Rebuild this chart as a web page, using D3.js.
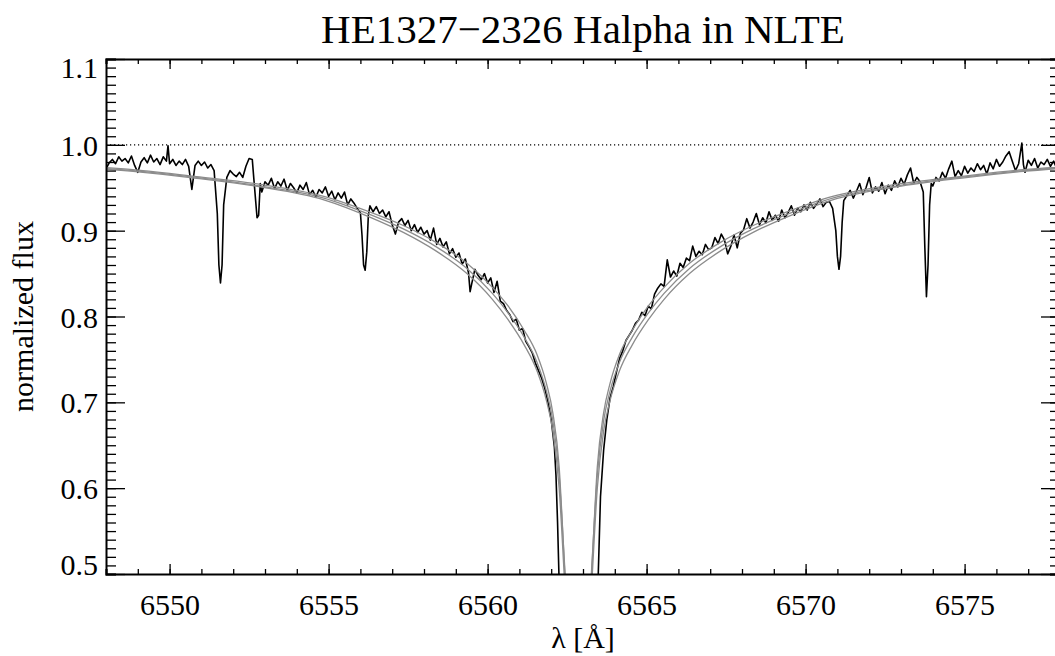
<!DOCTYPE html>
<html>
<head>
<meta charset="utf-8">
<script src="https://cdn.jsdelivr.net/npm/d3@7"></script>
<style>
  body { margin: 0; background: #fff; }
  svg { display: block; }
  svg text { font-family: "Liberation Serif", "DejaVu Serif", serif !important; }
</style>
</head>
<body>
<svg id="chart" width="1055" height="656"></svg>
<script>
// chart text
const title = "HE1327\u22122326 Halpha in NLTE";
const xTitle = "\u03bb [\u00c5]";
const yTitle = "normalized flux";

// axis ticks
const xMajorTicks = [6550, 6555, 6560, 6565, 6570, 6575];
const yMajorTicks = [0.5, 0.6, 0.7, 0.8, 0.9, 1.0, 1.1];
const continuum = 1.0;

// model profiles (gray), wavelengths in Angstrom
const modelWave = [6546.85, 6548.85, 6550.85, 6552.85, 6554.85, 6556.35, 6557.35, 6558.35, 6559.35,
  6560.15, 6560.65, 6561.15, 6561.55, 6561.85, 6562.05, 6562.25, 6562.43, 6562.55,
  6563.15, 6563.27, 6563.45, 6563.65, 6563.85, 6564.15, 6564.55, 6565.05, 6565.55,
  6566.35, 6567.35, 6568.35, 6569.35, 6570.85, 6572.85, 6574.85, 6576.85, 6578.85];
const modelA = [.976, .971, .963, .954, .940, .921, .906, .887, .862, .834, .812, .784, .756, .722, .688, .625, .500, .420,
  .420, .500, .625, .688, .722, .756, .784, .812, .834, .862, .887, .906, .921, .940, .954, .963, .971, .976];
const modelB = [.975, .970, .962, .952, .938, .918, .902, .882, .856, .827, .804, .776, .747, .713, .679, .615, .505, .430,
  .430, .505, .615, .679, .713, .747, .776, .804, .827, .856, .882, .902, .918, .938, .952, .962, .970, .975];
const modelC = [.975, .969, .961, .951, .936, .915, .898, .877, .850, .820, .796, .767, .737, .702, .667, .600, .485, .410,
  .410, .485, .600, .667, .702, .737, .767, .796, .820, .850, .877, .898, .915, .936, .951, .961, .969, .975];

// observed spectrum [wavelength, flux]
const observed = [
  [6548.0, .972], [6548.1, .979], [6548.2, .983], [6548.3, .978], [6548.4, .986], [6548.5, .981], [6548.6, .984],
  [6548.7, .979], [6548.8, .987], [6548.9, .976], [6549.0, .968], [6549.1, .980], [6549.2, .985], [6549.3, .979],
  [6549.4, .988], [6549.5, .980], [6549.6, .984], [6549.7, .977], [6549.8, .986], [6549.9, .981], [6549.95, .999],
  [6550.0, .978], [6550.1, .983], [6550.2, .976], [6550.3, .981], [6550.4, .977], [6550.5, .983], [6550.6, .975],
  [6550.7, .948], [6550.8, .976], [6550.9, .981], [6551.0, .976], [6551.1, .980], [6551.2, .973], [6551.3, .977],
  [6551.4, .970], [6551.5, .920], [6551.55, .860], [6551.6, .839], [6551.65, .860], [6551.7, .930], [6551.8, .962],
  [6551.9, .970], [6552.0, .966], [6552.1, .963], [6552.2, .968], [6552.3, .962], [6552.4, .975], [6552.5, .984],
  [6552.6, .983], [6552.65, .960], [6552.75, .915], [6552.8, .918], [6552.85, .955], [6552.9, .945], [6553.0, .957],
  [6553.1, .953], [6553.2, .961], [6553.3, .949], [6553.4, .957], [6553.5, .952], [6553.6, .960], [6553.7, .947],
  [6553.8, .955], [6553.9, .950], [6554.0, .944], [6554.1, .953], [6554.2, .948], [6554.3, .956], [6554.4, .942],
  [6554.5, .947], [6554.6, .939], [6554.7, .948], [6554.8, .944], [6554.9, .951], [6555.0, .940], [6555.1, .946],
  [6555.2, .936], [6555.3, .944], [6555.4, .938], [6555.5, .945], [6555.6, .930], [6555.7, .937], [6555.8, .932],
  [6555.9, .926], [6556.0, .921], [6556.05, .895], [6556.1, .860], [6556.15, .854], [6556.2, .875], [6556.25, .918],
  [6556.3, .929], [6556.4, .922], [6556.5, .928], [6556.6, .920], [6556.7, .924], [6556.8, .916], [6556.9, .922],
  [6557.0, .907], [6557.1, .896], [6557.2, .910], [6557.3, .914], [6557.4, .906], [6557.5, .912], [6557.6, .900],
  [6557.7, .907], [6557.8, .898], [6557.9, .904], [6558.0, .896], [6558.1, .900], [6558.2, .889], [6558.3, .903],
  [6558.4, .884], [6558.5, .891], [6558.6, .881], [6558.7, .887], [6558.8, .873], [6558.9, .879], [6559.0, .869],
  [6559.1, .874], [6559.2, .861], [6559.3, .867], [6559.4, .851], [6559.45, .829], [6559.5, .838], [6559.6, .855],
  [6559.7, .848], [6559.8, .843], [6559.9, .850], [6560.0, .839], [6560.1, .845], [6560.2, .828], [6560.3, .841],
  [6560.4, .818], [6560.5, .815], [6560.6, .807], [6560.7, .802], [6560.8, .794], [6560.9, .797], [6561.0, .784],
  [6561.1, .786], [6561.2, .771], [6561.3, .765], [6561.4, .758], [6561.5, .746], [6561.6, .737], [6561.7, .728],
  [6561.8, .716], [6561.9, .700], [6562.0, .680], [6562.1, .648], [6562.15, .615], [6562.2, .560], [6562.25, .490],
  [6562.3, .430], [6562.4, .360], [6562.85, .300], [6563.3, .360], [6563.4, .440], [6563.48, .500], [6563.55, .590],
  [6563.65, .645], [6563.75, .680], [6563.85, .705], [6563.95, .718], [6564.05, .735], [6564.15, .751], [6564.25, .760],
  [6564.35, .772], [6564.45, .778], [6564.55, .784], [6564.65, .792], [6564.75, .796], [6564.85, .805], [6564.95, .801],
  [6565.05, .812], [6565.15, .809], [6565.25, .826], [6565.35, .833], [6565.45, .838], [6565.55, .835], [6565.65, .866],
  [6565.75, .846], [6565.85, .853], [6565.95, .847], [6566.05, .862], [6566.15, .857], [6566.25, .868], [6566.35, .865],
  [6566.45, .882], [6566.55, .870], [6566.65, .876], [6566.75, .872], [6566.85, .884], [6566.95, .878], [6567.05, .880],
  [6567.15, .892], [6567.25, .885], [6567.35, .896], [6567.45, .889], [6567.55, .873], [6567.65, .882], [6567.75, .895],
  [6567.85, .880], [6567.95, .897], [6568.05, .901], [6568.15, .914], [6568.25, .903], [6568.35, .910], [6568.45, .920],
  [6568.55, .907], [6568.65, .915], [6568.75, .909], [6568.85, .922], [6568.95, .912], [6569.05, .918], [6569.15, .911],
  [6569.25, .924], [6569.35, .915], [6569.45, .921], [6569.55, .929], [6569.65, .918], [6569.75, .926], [6569.85, .922],
  [6569.95, .930], [6570.05, .924], [6570.15, .933], [6570.25, .926], [6570.35, .931], [6570.45, .937], [6570.55, .928],
  [6570.65, .933], [6570.75, .934], [6570.85, .926], [6570.95, .900], [6571.0, .870], [6571.05, .855], [6571.1, .870],
  [6571.15, .910], [6571.2, .935], [6571.3, .941], [6571.4, .947], [6571.5, .938], [6571.6, .946], [6571.7, .955],
  [6571.8, .942], [6571.9, .950], [6572.0, .962], [6572.1, .944], [6572.2, .951], [6572.3, .946], [6572.4, .956],
  [6572.5, .943], [6572.6, .953], [6572.7, .947], [6572.8, .958], [6572.9, .951], [6573.0, .961], [6573.1, .954],
  [6573.2, .965], [6573.3, .973], [6573.4, .955], [6573.5, .962], [6573.6, .957], [6573.7, .945], [6573.75, .880],
  [6573.8, .823], [6573.85, .860], [6573.9, .930], [6573.95, .955], [6574.0, .952], [6574.1, .962], [6574.2, .958],
  [6574.3, .968], [6574.4, .961], [6574.5, .972], [6574.6, .981], [6574.7, .963], [6574.8, .970], [6574.9, .964],
  [6575.0, .975], [6575.1, .967], [6575.2, .973], [6575.3, .969], [6575.4, .978], [6575.5, .971], [6575.6, .976],
  [6575.7, .966], [6575.8, .979], [6575.9, .972], [6576.0, .983], [6576.1, .975], [6576.2, .980], [6576.3, .987],
  [6576.4, .992], [6576.5, .981], [6576.6, .970], [6576.7, .978], [6576.8, 1.002], [6576.85, .977], [6576.9, .968],
  [6577.0, .982], [6577.1, .976], [6577.2, .984], [6577.3, .973], [6577.4, .980], [6577.5, .977], [6577.6, .983],
  [6577.7, .975], [6577.8, .981], [6577.9, .972], [6578.0, .979], [6578.1, .976]
];

const margin = { left: 106, top: 59, right: -5, bottom: 82 };
const width = 1055;
const height = 656;

const svg = d3.select("#chart");
const plotW = width - margin.left - margin.right;
const plotH = height - margin.top - margin.bottom;

const x = d3.scaleLinear().domain([6548, 6578]).range([0, plotW]);
const y = d3.scaleLinear().domain([0.5, 1.1]).range([plotH, 0]);

const g = svg.append("g").attr("transform", `translate(${margin.left},${margin.top})`);

svg.append("defs").append("clipPath").attr("id", "plotclip")
  .append("rect").attr("width", plotW).attr("height", plotH);

// title
svg.append("text")
  .attr("x", margin.left + plotW / 2)
  .attr("y", 43)
  .attr("text-anchor", "middle")
  .attr("font-size", 41)
  .text(title);

const plot = g.append("g").attr("clip-path", "url(#plotclip)");

// continuum level
plot.append("line")
  .attr("x1", 0).attr("x2", plotW)
  .attr("y1", y(continuum)).attr("y2", y(continuum))
  .attr("stroke", "#000")
  .attr("stroke-width", 1.2)
  .attr("stroke-dasharray", "1.2,2.8");

const obsLine = d3.line().x((d) => x(d[0])).y((d) => y(d[1]));
plot.append("path")
  .datum(observed)
  .attr("fill", "none")
  .attr("stroke", "#000")
  .attr("stroke-width", 1.6)
  .attr("stroke-linejoin", "round")
  .attr("d", obsLine);

const modelLine = d3.line()
  .x((d, i) => x(modelWave[i]))
  .y((d) => y(d))
  .curve(d3.curveMonotoneX);
[modelA, modelB, modelC].forEach((m) => {
  plot.append("path")
    .datum(m)
    .attr("fill", "none")
    .attr("stroke", "#8c8c8c")
    .attr("stroke-width", 1.3)
    .attr("d", modelLine);
});

// axes: ticks point inward on all four sides
const xMinor = d3.range(6548, 6579, 1);
const yMinor = d3.range(50, 111, 1).map((v) => v / 100);

function styleAxis(sel) {
  sel.attr("font-family", null).attr("font-size", 30);
  sel.selectAll(".tick line").attr("stroke", "#000").attr("stroke-width", 1.3);
  sel.select(".domain").attr("stroke", "#000").attr("stroke-width", 2);
  sel.selectAll("text").attr("fill", "#000");
}

const xBottom = g.append("g").attr("transform", `translate(0,${plotH})`)
  .call(d3.axisBottom(x).tickValues(xMinor).tickSize(-5).tickFormat(""));
styleAxis(xBottom);
const xBottomMajor = g.append("g").attr("transform", `translate(0,${plotH})`)
  .call(d3.axisBottom(x).tickValues(xMajorTicks).tickSize(-10).tickPadding(20).tickFormat(d3.format("d")));
styleAxis(xBottomMajor);
xBottomMajor.select(".domain").remove();

const xTop = g.append("g")
  .call(d3.axisTop(x).tickValues(xMinor).tickSize(-5).tickFormat(""));
styleAxis(xTop);
const xTopMajor = g.append("g")
  .call(d3.axisTop(x).tickValues(xMajorTicks).tickSize(-10).tickFormat(""));
styleAxis(xTopMajor);
xTopMajor.select(".domain").remove();

const yLeft = g.append("g")
  .call(d3.axisLeft(y).tickValues(yMinor).tickSize(-10).tickFormat(""));
styleAxis(yLeft);
const yLeftMajor = g.append("g")
  .call(d3.axisLeft(y).tickValues(yMajorTicks).tickSize(-19).tickPadding(8).tickFormat(d3.format(".1f")));
styleAxis(yLeftMajor);
yLeftMajor.select(".domain").remove();
yLeftMajor.selectAll("text").attr("dy", "0.35em");
// end labels are kept inside the axis span
yLeftMajor.selectAll(".tick").filter((d) => d === 1.1).select("text").attr("dy", "0.6em");
yLeftMajor.selectAll(".tick").filter((d) => d === 0.5).select("text").attr("dy", "0em");

const yRight = g.append("g").attr("transform", `translate(${plotW},0)`)
  .call(d3.axisRight(y).tickValues(yMinor).tickSize(-10).tickFormat(""));
styleAxis(yRight);
const yRightMajor = g.append("g").attr("transform", `translate(${plotW},0)`)
  .call(d3.axisRight(y).tickValues(yMajorTicks).tickSize(-19).tickFormat(""));
styleAxis(yRightMajor);
yRightMajor.select(".domain").remove();

// axis titles
svg.append("text")
  .attr("x", margin.left + plotW / 2)
  .attr("y", 648)
  .attr("text-anchor", "middle")
  .attr("font-size", 30)
  .text(xTitle);

svg.append("text")
  .attr("transform", `translate(33,${margin.top + plotH / 2}) rotate(-90)`)
  .attr("text-anchor", "middle")
  .attr("font-size", 30)
  .text(yTitle);
</script>
</body>
</html>
